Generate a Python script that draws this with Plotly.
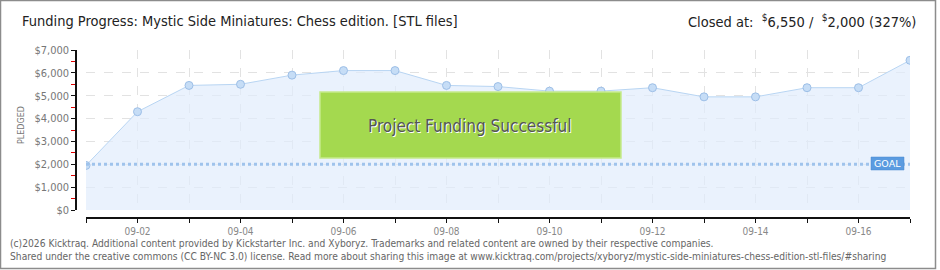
import plotly.graph_objects as go

dates = ["2025-09-%02d" % d for d in range(1, 18)]
pledged = [1950, 4300, 5450, 5500, 5900, 6100, 6100, 5450, 5400, 5200, 5200, 5350, 4950, 4950, 5350, 5350, 6550]
goal = 2000
y_ticks = [0, 1000, 2000, 3000, 4000, 5000, 6000, 7000]
y_tick_labels = ["$0", "$1,000", "$2,000", "$3,000", "$4,000", "$5,000", "$6,000", "$7,000"]
x_tick_dates = ["2025-09-02", "2025-09-04", "2025-09-06", "2025-09-08", "2025-09-10", "2025-09-12", "2025-09-14", "2025-09-16"]
x_tick_labels = ["09-02", "09-04", "09-06", "09-08", "09-10", "09-12", "09-14", "09-16"]

title_left = "Funding Progress: Mystic Side Miniatures: Chess edition. [STL files]"
footer1 = "(c)2026 Kicktraq. Additional content provided by Kickstarter Inc. and Xyboryz. Trademarks and related content are owned by their respective companies."
footer2 = "Shared under the creative commons (CC BY-NC 3.0) license. Read more about sharing this image at www.kicktraq.com/projects/xyboryz/mystic-side-miniatures-chess-edition-stl-files/#sharing"

W, H = 940, 270
ML, MR, MT, MB = 76, 30, 50, 52
PW = W - ML - MR
PH = H - MT - MB

def px(x):
    return (x - ML) / PW

def py(y):
    return (H - MB - y) / PH

COND = "DejaVu Sans Condensed, DejaVu Sans"
GRID = "#e2e2e2"

fig = go.Figure()
fig.add_trace(go.Scatter(
    x=dates, y=pledged, mode="lines+markers",
    line=dict(color="#b8d5f3", width=1),
    fill="tozeroy", fillcolor="rgba(225,237,252,0.7)",
    marker=dict(size=8, color="#c6ddf6", line=dict(color="#9dbfe7", width=1)),
    hoverinfo="skip", showlegend=False,
))
fig.add_trace(go.Scatter(
    x=[dates[0], dates[-1]], y=[goal, goal], mode="lines",
    line=dict(color="#9fc3ec", width=3, dash="dot"),
    hoverinfo="skip", showlegend=False,
))

fig.update_layout(
    width=W, height=H,
    margin=dict(l=ML, r=MR, t=MT, b=MB),
    paper_bgcolor="white", plot_bgcolor="white",
    font=dict(family=COND, size=11, color="#777"),
    xaxis=dict(
        type="date", range=[dates[0], dates[-1]],
        domain=[px(86), 1], anchor="free", position=0,
        tickvals=x_tick_dates, ticktext=x_tick_labels,
        showgrid=True, gridcolor=GRID, griddash="dash", gridwidth=1,
        minor=dict(tick0=dates[0], dtick=86400000, ticks="outside", ticklen=4, tickcolor="#111",
                   showgrid=True, gridcolor=GRID, griddash="dash", gridwidth=1),
        showline=True, linecolor="#111", linewidth=1.5,
        ticks="outside", ticklen=4, tickcolor="#111",
        tickfont=dict(size=10, color="#888", family=COND),
        zeroline=False, fixedrange=True,
    ),
    yaxis=dict(
        range=[0, 7000], domain=[py(210), 1], anchor="free", position=0,
        tickvals=y_ticks, ticktext=y_tick_labels,
        showgrid=True, gridcolor=GRID, griddash="dash", gridwidth=1,
        showline=True, linecolor="#111", linewidth=1.5,
        ticks="outside", ticklen=4, tickcolor="#111",
        minor=dict(dtick=500, ticks="outside", ticklen=4, tickcolor="#e00000", showgrid=False),
        tickfont=dict(size=11, color="#777", family=COND),
        zeroline=False, fixedrange=True,
    ),
)

shapes = []
shapes.append(dict(type="rect", xref="paper", yref="paper",
                   x0=px(0.5), x1=px(935.5), y0=py(268.5), y1=py(0.5),
                   line=dict(color="#8c8c8c", width=1.5), layer="below"))
shapes.append(dict(type="rect", xref="paper", yref="paper",
                   x0=px(320), x1=px(621), y0=py(158), y1=py(92),
                   fillcolor="#a4d94f", line=dict(color="#c5ea8c", width=1.5)))
shapes.append(dict(type="rect", xref="paper", yref="paper",
                   x0=px(871), x1=px(904), y0=py(170), y1=py(157),
                   fillcolor="#5a9be0", line=dict(color="#4a8ad0", width=0.5)))
fig.update_layout(shapes=shapes)

tfont = dict(family=COND, size=14.5, color="#222")
ann = []
ann.append(dict(text=title_left, xref="paper", yref="paper", x=px(20), y=py(21),
                xanchor="left", yanchor="middle", showarrow=False, font=tfont))
ann.append(dict(text="Closed at:  <sup>$</sup>6,550 /  <sup>$</sup>2,000 (327%)", xref="paper", yref="paper",
                x=px(918), y=py(21), xanchor="right", yanchor="middle", showarrow=False, font=tfont))
ann.append(dict(text="PLEDGED", xref="paper", yref="paper", x=px(21), y=py(125),
                xanchor="center", yanchor="middle", showarrow=False, textangle=-90,
                font=dict(family="DejaVu Sans", size=8, color="#777")))
ann.append(dict(text="Project Funding Successful", xref="paper", yref="paper", x=px(470), y=py(126),
                xanchor="center", yanchor="middle", showarrow=False,
                font=dict(family=COND, size=17, color="#555555", shadow="1px 1px 0px #ffffff")))
ann.append(dict(text="GOAL", xref="paper", yref="paper", x=px(887.5), y=py(163.5),
                xanchor="center", yanchor="middle", showarrow=False,
                font=dict(family="DejaVu Sans", size=9.5, color="white")))
ffont = dict(family=COND, size=10.2, color="#666")
ann.append(dict(text=footer1, xref="paper", yref="paper", x=px(8), y=py(243),
                xanchor="left", yanchor="middle", showarrow=False, font=ffont))
ann.append(dict(text=footer2, xref="paper", yref="paper", x=px(8), y=py(256),
                xanchor="left", yanchor="middle", showarrow=False, font=ffont))
fig.update_layout(annotations=ann)

fig.write_html("out.html", config={"displayModeBar": False})
